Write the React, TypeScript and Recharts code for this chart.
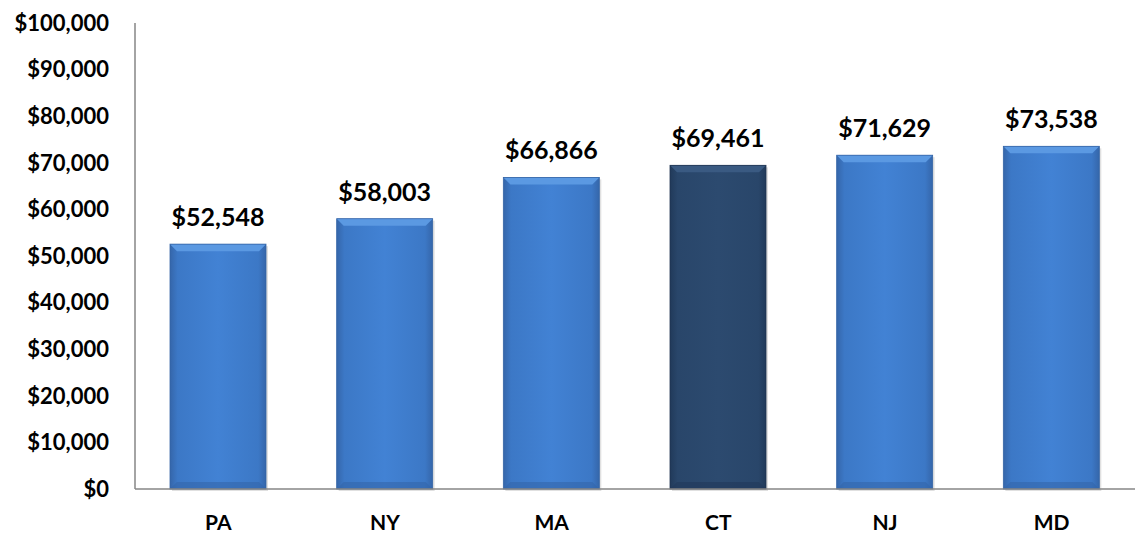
import React from 'react';
import { BarChart, Bar, XAxis, YAxis, Cell, LabelList } from 'recharts';

const states = ['PA', 'NY', 'MA', 'CT', 'NJ', 'MD'];
const incomes = [52548, 58003, 66866, 69461, 71629, 73538];
const highlight = ['CT'];
const yTicks = [0, 10000, 20000, 30000, 40000, 50000, 60000, 70000, 80000, 90000, 100000];

const data = states.map((s, i) => ({ state: s, income: incomes[i] }));

const fmt = (v: number) => '$' + v.toLocaleString('en-US');
const FONT = 'Lato, "Open Sans", sans-serif';

const BevelBar = (props: any) => {
  const { x, y, width, height, payload } = props;
  if (!width || !height) return null;
  const dark = highlight.includes(payload.state);
  const b = 7;
  const grad = dark ? 'url(#darkGrad)' : 'url(#blueGrad)';
  const top = dark ? '#3A5A82' : '#5B99E2';
  const bottom = dark ? '#22395A' : '#3466AA';
  return (
    <g>
      <rect x={x + 2} y={y + 2} width={width} height={height} fill="rgba(0,0,0,0.12)" />
      <rect x={x} y={y} width={width} height={height} fill={grad} />
      <polygon points={`${x},${y} ${x + width},${y} ${x + width - b},${y + b} ${x + b},${y + b}`} fill={top} />
      <polygon points={`${x},${y + height} ${x + width},${y + height} ${x + width - b},${y + height - b} ${x + b},${y + height - b}`} fill={bottom} opacity={0.6} />
      <rect x={x} y={y} width={width} height={height} fill="none" stroke={dark ? '#1E3350' : '#3464A6'} strokeWidth={0.8} />
    </g>
  );
};

export default function App() {
  return (
    <div style={{ position: 'absolute', left: 0, top: 0, background: '#fff' }}>
      <BarChart width={1135} height={537} data={data} margin={{ top: 23, right: 0, bottom: 0, left: 0 }} barCategoryGap={0}>
        <defs>
          <linearGradient id="blueGrad" x1="0" y1="0" x2="1" y2="0">
            <stop offset="0%" stopColor="#3566AA" />
            <stop offset="8%" stopColor="#3C78C6" />
            <stop offset="50%" stopColor="#4282D4" />
            <stop offset="92%" stopColor="#3C78C6" />
            <stop offset="100%" stopColor="#3566AA" />
          </linearGradient>
          <linearGradient id="darkGrad" x1="0" y1="0" x2="1" y2="0">
            <stop offset="0%" stopColor="#213A5A" />
            <stop offset="8%" stopColor="#29466A" />
            <stop offset="50%" stopColor="#2C4A6F" />
            <stop offset="92%" stopColor="#29466A" />
            <stop offset="100%" stopColor="#213A5A" />
          </linearGradient>
        </defs>
        <XAxis
          dataKey="state"
          height={48}
          axisLine={{ stroke: '#868686', strokeWidth: 1.5 }}
          tickLine={false}
          tickMargin={20}
          tick={{ fill: '#000', fontSize: 21, fontWeight: 700, fontFamily: FONT }}
        />
        <YAxis
          width={135}
          domain={[0, 100000]}
          ticks={yTicks}
          interval={0}
          tickFormatter={fmt}
          axisLine={{ stroke: '#868686', strokeWidth: 1.5 }}
          tickLine={false}
          tickMargin={20}
          tick={{ fill: '#000', fontSize: 22, fontWeight: 700, fontFamily: FONT }}
        />
        <Bar dataKey="income" barSize={96} isAnimationActive={false} shape={<BevelBar />}>
          {data.map((d) => (
            <Cell key={d.state} fill={highlight.includes(d.state) ? 'url(#darkGrad)' : 'url(#blueGrad)'} />
          ))}
          <LabelList
            dataKey="income"
            position="top"
            offset={18}
            formatter={(v: any) => fmt(Number(v))}
            style={{ fill: '#000', fontSize: 25, fontWeight: 700, fontFamily: FONT }}
          />
        </Bar>
      </BarChart>
    </div>
  );
}
